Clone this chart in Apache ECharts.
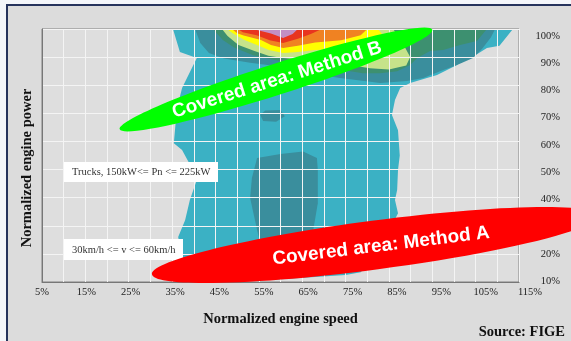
<!DOCTYPE html>
<html>
<head>
<meta charset="utf-8">
<script src="https://cdn.jsdelivr.net/npm/echarts@6/dist/echarts.min.js"></script>
<style>
  html, body { margin: 0; padding: 0; background: #f4f6fa; }
  #main { width: 571px; height: 341px; }
</style>
</head>
<body>
<div id="main"></div>
<script>
// tick labels
const xLabels = ['5%', '15%', '25%', '35%', '45%', '55%', '65%', '75%', '85%', '95%', '105%', '115%'];
const yTicks = [10, 20, 30, 40, 50, 60, 70, 80, 90, 100];

// contour outlines, [normalized speed %, normalized power %]
const tealArea = [[35.2, 100], [36.8, 91.8], [40.7, 89.7], [37.3, 79], [36.1, 71.5], [35.4, 59.4], [37.3, 57], [39.8, 49.8],
  [40.7, 46.3], [39.1, 39.2], [38, 32], [36.4, 26], [37.5, 18], [38.7, 10], [45, 10], [60, 11], [75, 12.5], [78.5, 13.5],
  [81, 18], [84, 25], [87.1, 34.5], [86.4, 39.2], [86.9, 42.7], [87.1, 49.8], [87.5, 55], [87.1, 64], [85.7, 69.4],
  [86.4, 74.7], [87.6, 79], [89.9, 80.8], [96.1, 83.6], [98.4, 85.4], [100.7, 87.2], [102.1, 89], [105.3, 91],
  [107.6, 93.2], [110.5, 94], [113.6, 100]];
const darkTealTop = [[40.3, 100], [41.5, 95], [43.5, 91.5], [47, 89.5], [53, 88], [60.6, 86.5], [68, 84], [73.7, 82.6],
  [83, 80.8], [89.2, 81.5], [92.9, 82.6], [96.8, 85], [100.7, 87.2], [104.4, 89.7], [106.5, 93], [108.5, 97], [109.5, 100]];
const darkTealPatch = [[55.3, 69.5], [56.5, 71], [60, 71.2], [61, 69], [59, 67], [56, 67.3]];
const darkTealMid = [[54.6, 54.1], [60, 55.5], [65.2, 56.4], [68.4, 54.1], [68.6, 49.8], [68.6, 38], [67.5, 28], [66, 21],
  [60, 17], [56, 19], [54.6, 28.5], [53, 39.9], [53.4, 47]];
const darkGreenArea = [[44.4, 100], [46.7, 96.1], [49.3, 93.4], [53.7, 90.7], [58, 89.2], [60.6, 88.3], [67, 87], [74, 85.5],
  [79, 84.3], [82.9, 84.3], [86.9, 85], [89.9, 87.2], [91.5, 89.7], [94.5, 92.2], [97.5, 92.5], [101.4, 94.3],
  [105.3, 95.7], [107.6, 100]];
const lightGreenArea = [[46.5, 100], [86, 100], [88.5, 94], [89.9, 90], [89, 87], [85, 85.6], [80.6, 86], [75, 87.5],
  [68, 88.8], [60.6, 89.7], [57.2, 90.5], [54, 92.2], [50.3, 94.3], [47.8, 97.5]];
const yellowArea = [[47.7, 100], [82.5, 100], [84, 97], [81, 94.5], [75, 93], [68, 92.5], [64, 91.8], [60.6, 91.5],
  [57.3, 92.5], [55, 94], [51.7, 96.1], [49, 98.5]];
const orangeArea = [[48.8, 100], [80, 100], [78.5, 97.8], [74, 96], [68, 95.2], [64, 94], [60.6, 93.2], [57.8, 94.3],
  [55.5, 96.1], [51.5, 97.7], [50, 98.5]];
const redArea = [[50.2, 100], [69.5, 100], [67, 98.2], [64, 96.5], [60.6, 95], [57.5, 96], [54.5, 97.8], [51.3, 98.8]];
const purpleArea = [[53.7, 100], [64, 100], [62.8, 98.2], [60.6, 96.8], [57.8, 98.4], [55.5, 99.3]];

const levels = [
  {points: tealArea, color: '#3bb1c4'},
  {points: darkTealTop, color: '#3a8e9d'},
  {points: darkTealPatch, color: '#3a8e9d'},
  {points: darkTealMid, color: '#3a8e9d'},
  {points: darkGreenArea, color: '#3d9070'},
  {points: lightGreenArea, color: '#c6e38a'},
  {points: yellowArea, color: '#ffff00'},
  {points: orangeArea, color: '#f08222'},
  {points: redArea, color: '#e8341f'},
  {points: purpleArea, color: '#c28fc4'}
];

const serif = '"Liberation Serif", "Times New Roman", serif';
const sans = '"Liberation Sans", Arial, sans-serif';

const chart = echarts.init(document.getElementById('main'));

const option = {
  animation: false,
  backgroundColor: '#dcdcdc',
  grid: [
    {left: 42, top: 29, width: 477, height: 253, show: true, backgroundColor: '#dedede', borderColor: '#808080', borderWidth: 1},
    {left: 42, top: 36, width: 488, height: 245, show: false}
  ],
  xAxis: [
    {
      gridIndex: 0, type: 'value', min: 5, max: 115, interval: 5, z: 3,
      axisLine: {show: true, onZero: false, lineStyle: {color: '#777'}},
      axisTick: {show: false}, axisLabel: {show: false},
      splitLine: {show: true, lineStyle: {color: '#f4f4f4', width: 1}},
      name: 'Normalized engine speed', nameLocation: 'middle', nameGap: 30,
      nameTextStyle: {fontFamily: serif, fontWeight: 'bold', fontSize: 14.5, color: '#111'}
    },
    {
      gridIndex: 1, type: 'category', data: xLabels, boundaryGap: false,
      axisLine: {show: false}, axisTick: {show: false}, splitLine: {show: false},
      axisLabel: {interval: 0, margin: 6, fontFamily: serif, fontSize: 10.5, color: '#222'}
    }
  ],
  yAxis: [
    {
      gridIndex: 0, type: 'value', min: 10, max: 100, interval: 10, z: 3,
      axisLine: {show: true, onZero: false, lineStyle: {color: '#777'}},
      axisTick: {show: false}, axisLabel: {show: false},
      splitLine: {show: true, lineStyle: {color: '#f4f4f4', width: 1}}
    },
    {
      gridIndex: 1, type: 'value', position: 'right',
      min: yTicks[0], max: yTicks[yTicks.length - 1], interval: 10,
      axisLine: {show: false}, axisTick: {show: false}, splitLine: {show: false},
      axisLabel: {align: 'right', margin: 30, formatter: '{value}%', fontFamily: serif, fontSize: 10.5, color: '#222'}
    }
  ],
  series: [{
    type: 'custom',
    xAxisIndex: 0,
    yAxisIndex: 0,
    clip: true,
    silent: true,
    data: levels.map((lv, i) => [lv.points[0][0], lv.points[0][1], i]),
    encode: {x: 0, y: 1},
    renderItem: (params, api) => {
      const lv = levels[params.dataIndex];
      return {
        type: 'polygon',
        z2: params.dataIndex,
        shape: {points: lv.points.map(p => api.coord(p))},
        style: {fill: lv.color}
      };
    }
  }],
  graphic: {
    elements: [
      // frame
      {type: 'rect', silent: true, z: 20, shape: {x: 0, y: 0, width: 571, height: 5}, style: {fill: '#f4f6fa'}},
      {type: 'rect', silent: true, z: 20, shape: {x: 0, y: 0, width: 6, height: 341}, style: {fill: '#f4f6fa'}},
      {type: 'polyline', silent: true, z: 21, shape: {points: [[7, 341], [7, 5], [571, 5]]},
        style: {stroke: '#26335c', lineWidth: 2, fill: null}},

      // labels in white boxes
      {type: 'rect', z: 10, shape: {x: 64, y: 162, width: 154, height: 20}, style: {fill: '#fff'}},
      {type: 'text', z: 11, x: 72, y: 172,
        style: {text: 'Trucks, 150kW<= Pn <= 225kW', font: '10.5px ' + serif, fill: '#333',
          verticalAlign: 'middle', textVerticalAlign: 'middle'}},
      {type: 'rect', z: 10, shape: {x: 64, y: 239, width: 119, height: 21}, style: {fill: '#fff'}},
      {type: 'text', z: 11, x: 72, y: 250,
        style: {text: '30km/h <= v <= 60km/h', font: '10.5px ' + serif, fill: '#333',
          verticalAlign: 'middle', textVerticalAlign: 'middle'}},

      // covered areas
      {type: 'ellipse', z: 12, x: 276, y: 79.5, rotation: 17.7 * Math.PI / 180,
        shape: {cx: 0, cy: 0, rx: 164, ry: 15.5}, style: {fill: '#00ff00'}},
      {type: 'text', z: 13, x: 277, y: 80, rotation: 17.5 * Math.PI / 180,
        style: {text: 'Covered area: Method B', font: 'bold 19px ' + sans, fill: '#fff',
          align: 'center', textAlign: 'center', verticalAlign: 'middle', textVerticalAlign: 'middle'}},
      {type: 'ellipse', z: 12, x: 375, y: 245, rotation: 7.5 * Math.PI / 180,
        shape: {cx: 0, cy: 0, rx: 225, ry: 24.5}, style: {fill: '#ff0000'}},
      {type: 'text', z: 13, x: 381, y: 246, rotation: 7 * Math.PI / 180,
        style: {text: 'Covered area: Method A', font: 'bold 19px ' + sans, fill: '#fff',
          align: 'center', textAlign: 'center', verticalAlign: 'middle', textVerticalAlign: 'middle'}},

      // y axis title and source
      {type: 'text', z: 11, x: 27, y: 168, rotation: Math.PI / 2,
        style: {text: 'Normalized engine power', font: 'bold 14.5px ' + serif, fill: '#111',
          align: 'center', textAlign: 'center', verticalAlign: 'middle', textVerticalAlign: 'middle'}},
      {type: 'text', z: 11, x: 565, y: 332,
        style: {text: 'Source: FIGE', font: 'bold 14.5px ' + serif, fill: '#111',
          align: 'right', textAlign: 'right', verticalAlign: 'middle', textVerticalAlign: 'middle'}}
    ]
  }
};

chart.setOption(option);
</script>
</body>
</html>
